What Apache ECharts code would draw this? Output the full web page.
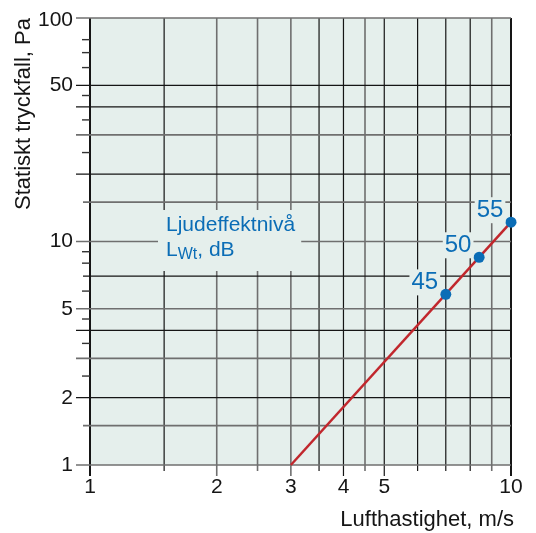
<!DOCTYPE html>
<html>
<head>
<meta charset="utf-8">
<script src="https://cdn.jsdelivr.net/npm/echarts@6/dist/echarts.min.js"></script>
<style>html,body{margin:0;padding:0;background:#fff}#c{width:536px;height:533px}</style>
</head>
<body>
<div id="c"></div>
<script>
// ---- data ----
const xGridValues = [1, 1.5, 2, 2.5, 3, 3.5, 4, 4.5, 5, 6, 7, 8, 9, 10];
const xTickLabels = [1, 2, 3, 4, 5, 10];
const yGridValues = [1, 1.5, 2, 3, 4, 5, 7, 10, 15, 20, 30, 40, 50, 100];
const yGridShort = [1.5, 7, 15];
const yMinorTicks = [2.5, 3.5, 4.5, 6, 8, 9, 25, 35, 45, 60, 70, 80];
const yTickLabels = [1, 2, 5, 10, 50, 100];
const lineX = [3, 10];
const lineY = [1, 12.2];
const pointX = [7.0, 8.4, 10];
const pointY = [5.8, 8.5, 12.2];
const pointLabels = ['45', '50', '55'];
const xGrayLines = [2, 2.5, 3, 4.5, 9];
const yGrayLines = [1, 1.5, 3, 5, 10, 15, 30, 100];

const FONT = 'Liberation Sans, Arial, sans-serif';
const BG = '#e5efec';
const BLUE = '#0b6db6';
const RED = '#c1272d';
const BLACK = '#151515';
const GRAY = '#6f6f6f';

const chart = echarts.init(document.getElementById('c'));

function lineStyle(isGray, isAxis) {
  if (isAxis) return { stroke: BLACK, lineWidth: 2 };
  return isGray ? { stroke: GRAY, lineWidth: 1.6 } : { stroke: BLACK, lineWidth: 1.2 };
}

const option = {
  animation: false,
  grid: { left: 90, right: 25, top: 18, bottom: 68, show: true, backgroundColor: BG, borderWidth: 0 },
  xAxis: { type: 'log', logBase: 10, min: 1, max: 10,
    axisLine: { show: false }, axisTick: { show: false }, axisLabel: { show: false }, splitLine: { show: false } },
  yAxis: { type: 'log', logBase: 10, min: 1, max: 100,
    axisLine: { show: false }, axisTick: { show: false }, axisLabel: { show: false }, splitLine: { show: false } },
  graphic: [
    { type: 'text', x: 24, y: 114, rotation: Math.PI / 2, z: 100,
      style: { text: 'Statiskt tryckfall, Pa', font: '22px ' + FONT, fill: BLACK, align: 'center', verticalAlign: 'middle' } },
    { type: 'text', x: 514, y: 520, z: 100,
      style: { text: 'Lufthastighet, m/s', font: '22px ' + FONT, fill: BLACK, align: 'right', verticalAlign: 'middle' } },
    { type: 'text', x: 158, y: 210, z: 100,
      style: {
        text: '{a|Ljudeffektnivå}\n{a|L}{s|Wt}{a|, dB}',
        align: 'left', verticalAlign: 'top',
        backgroundColor: BG, padding: [3, 6, 8, 8],
        rich: {
          a: { fill: BLUE, fontSize: 21, fontFamily: FONT, lineHeight: 25 },
          s: { fill: BLUE, fontSize: 16, fontFamily: FONT, lineHeight: 25, verticalAlign: 'bottom', padding: [6, 0, 0, 0] }
        }
      } }
  ],
  series: [
    { // vertical grid lines + bottom ticks
      type: 'custom', z: 1, silent: true,
      data: xGridValues.map(v => [v, 1]),
      renderItem: (params, api) => {
        const v = api.value(0);
        const top = api.coord([v, 100]);
        const bot = api.coord([v, 1]);
        const ext = xTickLabels.includes(v) ? 11 : 6;
        return { type: 'line', shape: { x1: bot[0], y1: bot[1] + ext, x2: top[0], y2: top[1] },
          style: lineStyle(xGrayLines.includes(v), v === 1 || v === 10) };
      }
    },
    { // horizontal grid lines + left ticks
      type: 'custom', z: 1, silent: true,
      data: yGridValues.map(v => [1, v]),
      renderItem: (params, api) => {
        const v = api.value(1);
        const l = api.coord([1, v]);
        const r = api.coord([10, v]);
        const ext = yGridShort.includes(v) ? 7 : 14;
        return { type: 'line', shape: { x1: l[0] - ext, y1: l[1], x2: r[0], y2: r[1] },
          style: lineStyle(yGrayLines.includes(v), false) };
      }
    },
    { // short minor ticks on the y axis
      type: 'custom', z: 1, silent: true,
      data: yMinorTicks.map(v => [1, v]),
      renderItem: (params, api) => {
        const v = api.value(1);
        const l = api.coord([1, v]);
        return { type: 'line', shape: { x1: l[0] - 8, y1: l[1], x2: l[0], y2: l[1] },
          style: { stroke: '#333', lineWidth: 1.4 } };
      }
    },
    { // y tick labels
      type: 'custom', z: 1, silent: true,
      data: yTickLabels.map(v => [1, v]),
      renderItem: (params, api) => {
        const v = api.value(1);
        const p = api.coord([1, v]);
        return { type: 'text', x: p[0] - 17, y: p[1] + (v === 100 ? 2 : 0),
          style: { text: String(v), font: '21px ' + FONT, fill: BLACK, align: 'right', verticalAlign: 'middle' } };
      }
    },
    { // x tick labels
      type: 'custom', z: 1, silent: true,
      data: xTickLabels.map(v => [v, 1]),
      renderItem: (params, api) => {
        const v = api.value(0);
        const p = api.coord([v, 1]);
        return { type: 'text', x: p[0], y: p[1] + 12,
          style: { text: String(v), font: '21px ' + FONT, fill: BLACK, align: 'center', verticalAlign: 'top' } };
      }
    },
    {
      type: 'line', z: 3, silent: true, symbol: 'none',
      data: lineX.map((x, i) => [x, lineY[i]]),
      lineStyle: { color: RED, width: 2.5, opacity: 1 }
    },
    {
      type: 'scatter', z: 4, silent: true, symbolSize: 11,
      itemStyle: { color: BLUE, opacity: 1 },
      data: pointX.map((x, i) => [x, pointY[i]]),
      label: {
        show: true, position: 'inside', offset: [-21, -12],
        formatter: p => pointLabels[p.dataIndex],
        color: BLUE, fontSize: 24, fontFamily: FONT, opacity: 1,
        textBorderWidth: 0,
        backgroundColor: BG, padding: [1, 2]
      }
    }
  ]
};
chart.setOption(option);
</script>
</body>
</html>
